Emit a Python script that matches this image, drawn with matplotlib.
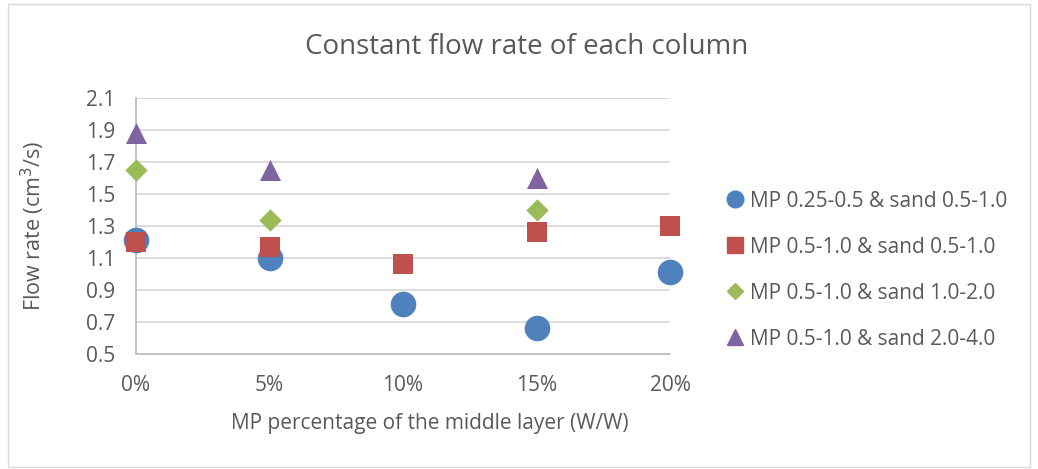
import matplotlib
matplotlib.use("Agg")
import matplotlib.pyplot as plt
from matplotlib.lines import Line2D
from matplotlib.patches import Rectangle

categories = ["0%", "5%", "10%", "15%", "20%"]
s1_x = [0, 1, 2, 3, 4]
s1 = [1.21, 1.10, 0.81, 0.66, 1.01]
s2_x = [0, 1, 2, 3, 4]
s2 = [1.20, 1.17, 1.06, 1.26, 1.30]
s3_x = [0, 1, 3]
s3 = [1.65, 1.34, 1.40]
s4_x = [0, 1, 3]
s4 = [1.88, 1.65, 1.60]
labels = ["MP 0.25-0.5 & sand 0.5-1.0", "MP 0.5-1.0 & sand 0.5-1.0",
          "MP 0.5-1.0 & sand 1.0-2.0", "MP 0.5-1.0 & sand 2.0-4.0"]
yticks = [0.5, 0.7, 0.9, 1.1, 1.3, 1.5, 1.7, 1.9, 2.1]

colors = ["#4F81BD", "#C0504D", "#9BBB59", "#8064A2"]
txt = "#595959"
plt.rcParams['font.family'] = ['Open Sans', 'DejaVu Sans']

W, H = 1038, 469
fig = plt.figure(figsize=(W/100, H/100), dpi=100)
ax = fig.add_axes([136/W, 1-354/H, (670-136)/W, (354-98)/H])

ax.scatter(s1_x, s1, s=340, marker='o', color=colors[0], zorder=3, linewidths=0, clip_on=False)
ax.scatter(s2_x, s2, s=200, marker='s', color=colors[1], zorder=4, linewidths=0, clip_on=False)
ax.scatter(s3_x, s3, s=130, marker='D', color=colors[2], zorder=4, linewidths=0, clip_on=False)
ax.scatter(s4_x, s4, s=230, marker='^', color=colors[3], zorder=4, linewidths=0, clip_on=False)

ax.set_xlim(0, 4)
ax.set_ylim(0.5, 2.1)
ax.set_yticks(yticks)
ax.set_yticklabels([f"{v:.1f}" for v in yticks])
ax.set_xticks(range(len(categories)))
ax.set_xticklabels(categories)
ax.grid(axis='y', color='#D9D9D9', linewidth=1.3, zorder=0)
ax.set_axisbelow(True)
for sp in ['top', 'right']:
    ax.spines[sp].set_visible(False)
for sp in ['left', 'bottom']:
    ax.spines[sp].set_color('#BFBFBF')
    ax.spines[sp].set_linewidth(1.3)
ax.tick_params(length=0, labelsize=15, colors=txt)
ax.tick_params(axis='y', pad=15)
ax.tick_params(axis='x', pad=15)

fig.text(33/W, 1-226/H, "Flow rate (cm$^3$/s)", rotation=90, ha='center', va='center',
         fontsize=15.5, color=txt)
fig.text(430/W, 1-423/H, "MP percentage of the middle layer (W/W)", ha='center', va='center',
         fontsize=15, color=txt)
fig.text(527/W, 1-47/H, "Constant flow rate of each column",
         ha='center', va='center', fontsize=20, color=txt)

handles = [
    Line2D([], [], marker='o', color=colors[0], linestyle='None', markersize=12),
    Line2D([], [], marker='s', color=colors[1], linestyle='None', markersize=12),
    Line2D([], [], marker='D', color=colors[2], linestyle='None', markersize=8),
    Line2D([], [], marker='^', color=colors[3], linestyle='None', markersize=12),
]
leg = fig.legend(handles, labels, loc='center left', bbox_to_anchor=(712/W, 1-270/H),
                 frameon=False, fontsize=15, labelcolor=txt, handletextpad=0.1,
                 labelspacing=1.2, handlelength=1.2, borderpad=0)

fig.add_artist(Rectangle((8/W, 2/H), (W-16)/W, (H-6)/H, transform=fig.transFigure,
                         fill=False, edgecolor='#D9D9D9', linewidth=1))
fig.savefig("out.png", dpi=100)
